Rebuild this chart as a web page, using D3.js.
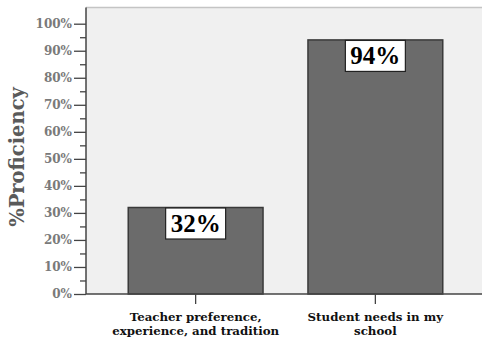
<!DOCTYPE html>
<html>
<head>
<meta charset="utf-8">
<script src="https://cdn.jsdelivr.net/npm/d3@7"></script>
<style>
  html, body { margin: 0; padding: 0; background: #fff; }
  svg { display: block; }
</style>
</head>
<body>
<svg id="chart" width="482" height="339"></svg>
<script>
// Chart data
const categories = [
  ["Teacher preference,", "experience, and tradition"],
  ["Student needs in my", "school"]
];
const values = [0.32, 0.94];
const valueLabels = ["32%", "94%"];
const yTicks = [0, 0.1, 0.2, 0.3, 0.4, 0.5, 0.6, 0.7, 0.8, 0.9, 1.0];
const yMinorTicks = [0.05, 0.15, 0.25, 0.35, 0.45, 0.55, 0.65, 0.75, 0.85, 0.95];
const yTitle = "%Proficiency";

const svg = d3.select("#chart");
const W = 482;
const plotLeft = 86, plotBottom = 294, plotTop = 7.5;

const y = d3.scaleLinear().domain([0, 1]).range([plotBottom, 23.7]);
const x = d3.scaleBand()
  .domain(d3.range(categories.length))
  .range([plotLeft, 485])
  .paddingInner(0.25)
  .paddingOuter(0.235);

// plot background
svg.append("rect")
  .attr("x", plotLeft).attr("y", plotTop)
  .attr("width", W - plotLeft).attr("height", plotBottom - plotTop)
  .attr("fill", "#f0f0f0");
svg.append("line")
  .attr("x1", plotLeft).attr("x2", W)
  .attr("y1", plotTop).attr("y2", plotTop)
  .attr("stroke", "#c4c4c4").attr("stroke-width", 1.5);

// bars
svg.append("g").selectAll("rect")
  .data(values)
  .join("rect")
  .attr("x", (d, i) => x(i))
  .attr("y", d => y(d))
  .attr("width", x.bandwidth())
  .attr("height", d => plotBottom - y(d))
  .attr("fill", "#6b6b6b")
  .attr("stroke", "#3a3a3a")
  .attr("stroke-width", 1.5);

// y axis
const yAxis = d3.axisLeft(y)
  .tickValues(yTicks)
  .tickFormat(d3.format(".0%"))
  .tickSize(12)
  .tickPadding(2);
const gy = svg.append("g")
  .attr("transform", `translate(${plotLeft},0)`)
  .call(yAxis);
gy.select(".domain").remove();
gy.selectAll(".tick line").attr("stroke", "#444").attr("stroke-width", 1.3);
gy.selectAll(".tick text")
  .attr("font-family", "'DejaVu Serif', serif")
  .attr("font-weight", "bold")
  .attr("font-size", 12)
  .attr("fill", "#7a7a7a");

const yMinor = d3.axisLeft(y).tickValues(yMinorTicks).tickSize(6).tickFormat("");
const gym = svg.append("g")
  .attr("transform", `translate(${plotLeft},0)`)
  .call(yMinor);
gym.select(".domain").remove();
gym.selectAll(".tick line").attr("stroke", "#444").attr("stroke-width", 1.3);

svg.append("line")
  .attr("x1", plotLeft).attr("x2", plotLeft)
  .attr("y1", plotTop).attr("y2", plotBottom)
  .attr("stroke", "#444").attr("stroke-width", 1.5);

// x axis
const xAxis = d3.axisBottom(x).tickSize(10).tickFormat("");
const gx = svg.append("g")
  .attr("transform", `translate(0,${plotBottom})`)
  .call(xAxis);
gx.select(".domain").remove();
gx.selectAll(".tick line").attr("stroke", "#444").attr("stroke-width", 1.3);
svg.append("line")
  .attr("x1", plotLeft).attr("x2", W)
  .attr("y1", plotBottom).attr("y2", plotBottom)
  .attr("stroke", "#444").attr("stroke-width", 1.5);

// category labels
const catG = svg.append("g");
categories.forEach((lines, i) => {
  const t = catG.append("text")
    .attr("x", x(i) + x.bandwidth() / 2)
    .attr("y", 320.5)
    .attr("text-anchor", "middle")
    .attr("font-family", "'DejaVu Serif', serif")
    .attr("font-weight", "bold")
    .attr("font-size", 11.8)
    .attr("fill", "#111");
  lines.forEach((s, k) => {
    t.append("tspan")
      .attr("x", x(i) + x.bandwidth() / 2)
      .attr("dy", k === 0 ? 0 : 14.5)
      .text(s);
  });
});

// value labels in boxes at the top of each bar
const boxW = 60, boxH = 31;
const lab = svg.append("g").selectAll("g")
  .data(values)
  .join("g")
  .attr("transform", (d, i) => `translate(${x(i) + x.bandwidth() / 2},${y(d)})`);
lab.append("rect")
  .attr("x", -boxW / 2).attr("y", 0.5)
  .attr("width", boxW).attr("height", boxH)
  .attr("fill", "#fff")
  .attr("stroke", "#222").attr("stroke-width", 1.2);
lab.append("text")
  .attr("x", 0)
  .attr("y", 24)
  .attr("text-anchor", "middle")
  .attr("font-family", "'Liberation Serif', 'Times New Roman', serif")
  .attr("font-weight", "bold")
  .attr("font-size", 25)
  .attr("fill", "#000")
  .text((d, i) => valueLabels[i]);

// y axis title
svg.append("text")
  .attr("transform", "translate(24,157) rotate(-90)")
  .attr("text-anchor", "middle")
  .attr("font-family", "'DejaVu Serif', serif")
  .attr("font-weight", "bold")
  .attr("font-size", 19.5)
  .attr("fill", "#5a5a5a")
  .text(yTitle);
</script>
</body>
</html>
